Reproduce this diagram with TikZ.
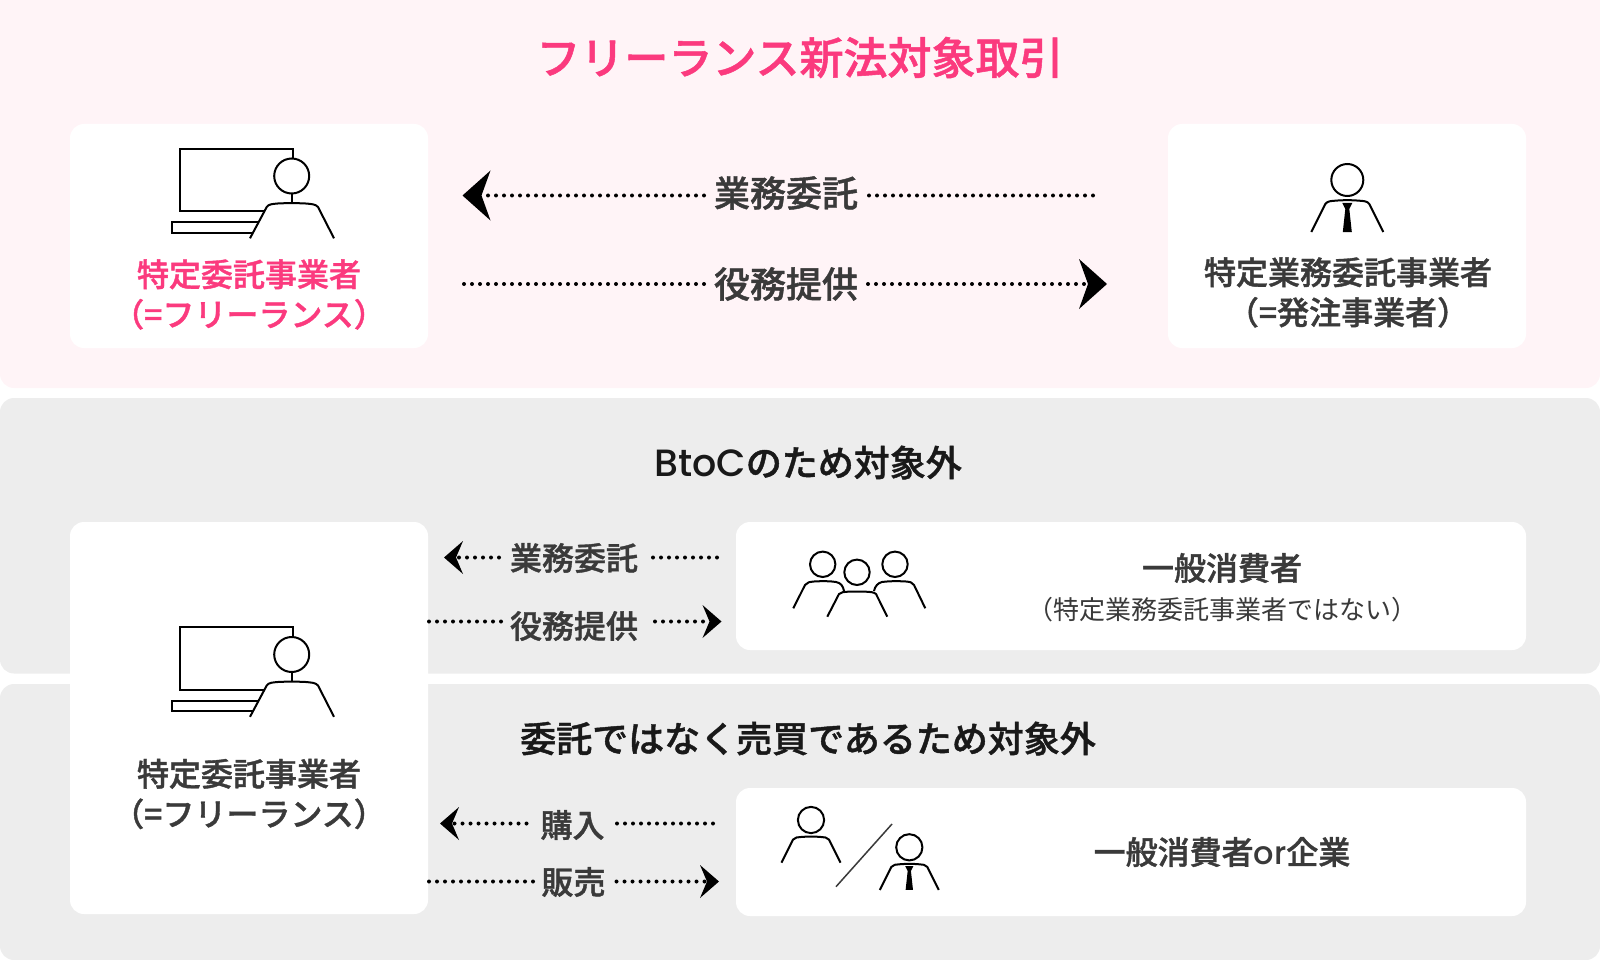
\documentclass[tikz,border=0pt]{standalone}
\usepackage{fontspec}
\setmainfont{Noto Sans CJK JP}[BoldFont={Noto Sans CJK JP Medium}, BoldFeatures={FakeBold=1.2}]
\newfontfamily\latinfont{Poppins}[BoldFont={Poppins Medium}]
\usepackage{tikz}
\usetikzlibrary {arrows.meta,
                 positioning}
\definecolor{panelpink}{HTML}{FFF4F7}
\definecolor{panelgray}{HTML}{EDEDED}
\definecolor{hotpink}{HTML}{FB3A7E}
\definecolor{inkgray}{HTML}{3A3A3A}
\newcommand{\personshape}{
    \draw[icon] (0,0) circle [radius=16];
    \draw[icon] (-36,52) -- (-22,24) .. controls (-20,21) and (-16,21) .. (-12,20.7)
        .. controls (-4,20) and (4,20) .. (12,20.7) .. controls (16,21) and (20,21) .. (22,24) -- (36,52);
}
\tikzset{
    panel/.style={rounded corners=14pt},
    card/.style={fill=white, rounded corners=14pt, inner sep=0pt, outer sep=0pt},
    base/.style={align=center, text=inkgray, font=\fontsize{32}{40}\selectfont\bfseries},
    pinkbase/.style={base, text=hotpink},
    head/.style={base, text=black!90, font=\fontsize{36}{44}\selectfont\bfseries},
    flow/.style={base, font=\fontsize{36}{44}\selectfont\bfseries, inner xsep=10pt, inner ysep=0pt, outer sep=0pt},
    smallflow/.style={base, inner xsep=11pt, inner ysep=0pt, outer sep=0pt},
    myarrow/.style={line width=4pt, line cap=round, dash pattern=on 0pt off 8pt},
    bighead/.style={myarrow, -{Stealth[length=28pt, width=50pt, inset=9pt, line width=0pt, round=false, sep=0pt]}},
    smallhead/.style={myarrow, -{Stealth[length=19pt, width=33pt, inset=7pt, line width=0pt, round=false, sep=0pt]}},
    icon/.style={draw=black, line width=2pt},
    person/.pic={
        \personshape
    },
    suit/.pic={
        \personshape
        \fill[black] (-5,23) -- (5,23) -- (2,29) -- (4.5,52) -- (-4.5,52) -- (-2,29) -- cycle;
    },
    desk/.pic={
        \draw[icon] (1,-18) -- (1,-27.3) -- (-112,-27.3) -- (-112,35) -- (-27.7,35);
        \draw[icon] (-33.7,46) -- (-119.7,46) -- (-119.7,56.7) -- (-39,56.7);
        \draw[icon] (0,0) circle [radius=17.5];
        \draw[icon] (0,18) -- (0,27);
        \draw[icon] (-41.7,62.3) -- (-25,31) .. controls (-23,28) and (-19,28) .. (-14,27.5)
            .. controls (-5,27) and (5,27) .. (14,27.5) .. controls (19,28) and (24,28) .. (26.3,31) -- (42.3,62.3);
    },
}
\begin{document}
\begin{tikzpicture}[x=1pt, y=-1pt]
    \useasboundingbox (0,0) rectangle (1600,960);

    % bands
    \fill[panelpink, panel] (0,-30) rectangle (1600,388);
    \fill[panelgray, panel] (0,398) rectangle (1600,673.5);
    \fill[panelgray, panel] (0,684) rectangle (1600,960);

    % white cards
    \node[card, minimum width=358pt, minimum height=224pt] (freeA) at (249,236) {};
    \node[card, minimum width=358pt, minimum height=224pt] (client) at (1347,236) {};
    \node[card, minimum width=358pt, minimum height=392pt] (freeB) at (249,718) {};
    \node[card, minimum width=790pt, minimum height=128pt] (consumer) at (1131,586) {};
    \node[card, minimum width=790pt, minimum height=128pt] (buyer) at (1131,852) {};

    % titles
    \node[pinkbase, font=\fontsize{44}{52}\selectfont\bfseries] (title) at (800,57.5) {フリーランス新法対象取引};
    \node[head] (btoc) at (808,462.5) {{\latinfont\fontsize{38}{44}\selectfont BtoC}のため対象外};
    \node[head] (sale) at (808,738.5) {委託ではなく売買であるため対象外};

    % card texts
    \node[pinkbase] (freeAtxt) at (249,294.5) {特定委託事業者\\（=フリーランス）};
    \node[base] (clienttxt) at (1348,292.5) {特定業務委託事業者\\（=発注事業者）};
    \node[base] (freeBtxt) at (249,794) {特定委託事業者\\（=フリーランス）};
    \node[base] (consumertxt) at (1222,568) {一般消費者};
    \node[base, font=\fontsize{26}{32}\selectfont] (consumersub) at (1222,610) {（特定業務委託事業者ではない）};
    \node[base] (buyertxt) at (1222,852) {一般消費者{\latinfont or}企業};

    % arrows of the pink band
    \coordinate (tipA) at (462.5,195.5);
    \coordinate (endA) at (1093,195.5);
    \coordinate (tipB) at (1107,284);
    \coordinate (endB) at (464,284);
    \node[flow] (order) at (786,193) {業務委託};
    \node[flow] (work) at (786,284) {役務提供};
    \draw[myarrow] (endA) -- ([xshift=-2pt]order.east |- endA);
    \draw[bighead] (order.west |- tipA) -- (tipA);
    \draw[myarrow] (endB) -- (work.west |- endB);
    \draw[bighead] (work.east |- tipB) -- (tipB);

    % arrows of the BtoC band
    \coordinate (tipC) at (444,557.5);
    \coordinate (endC) at (717,557.5);
    \coordinate (tipD) at (721.5,621.5);
    \coordinate (endD) at (429,621.5);
    \node[smallflow] (order2) at (574,558) {業務委託};
    \node[smallflow] (work2) at (574,626) {役務提供};
    \draw[myarrow] (endC) -- (order2.east |- endC);
    \draw[smallhead] (order2.west |- tipC) -- (tipC);
    \draw[myarrow] (endD) -- ([xshift=4pt]work2.west |- endD);
    \draw[smallhead] ([xshift=6pt]work2.east |- tipD) -- (tipD);

    % arrows of the sale band
    \coordinate (tipE) at (440,823.5);
    \coordinate (endE) at (713,823.5);
    \coordinate (tipF) at (719,881.5);
    \coordinate (endF) at (429,881.5);
    \node[smallflow] (buy) at (572.5,825) {購入};
    \node[smallflow] (sell) at (573.5,882) {販売};
    \draw[myarrow] (endE) -- ([xshift=-3pt]buy.east |- endE);
    \draw[smallhead] ([xshift=-3pt]buy.west |- tipE) -- (tipE);
    \draw[myarrow] (endF) -- ([xshift=3pt]sell.west |- endF);
    \draw[smallhead] (sell.east |- tipF) -- (tipF);

    % icons
    \pic at (291.7,176) {desk};
    \pic at (291.7,654.5) {desk};
    \pic at (1347.3,180) {suit};

    \draw[icon] (822.7,564.3) circle [radius=12.7];
    \draw[icon] (857,572.3) circle [radius=12.7];
    \draw[icon] (895,564.3) circle [radius=12.7];
    \draw[icon] (793.3,608.3) -- (805,585) .. controls (807,582) and (810,582) .. (814,581.5)
        .. controls (822,581) and (830,581) .. (836,582) .. controls (841,583) and (843,586) .. (844,591);
    \draw[icon] (827.3,616.7) -- (839,594) .. controls (841,592) and (844,592) .. (848,591.7)
        -- (866,591.7) .. controls (870,592) and (874,592) .. (876,594) -- (887.3,616.7);
    \draw[icon] (874,591) .. controls (875,586) and (878,583) .. (882,582)
        .. controls (890,581) and (898,581) .. (906,581.5) .. controls (910,582) and (912,582) .. (914,585) -- (925.3,608.3);

    \pic[scale=0.82] at (811,820) {person};
    \pic[scale=0.82] at (909.3,847.3) {suit};
    \draw[inkgray, line width=1.5pt] (836,886.7) -- (892,824);
\end{tikzpicture}
\end{document}
